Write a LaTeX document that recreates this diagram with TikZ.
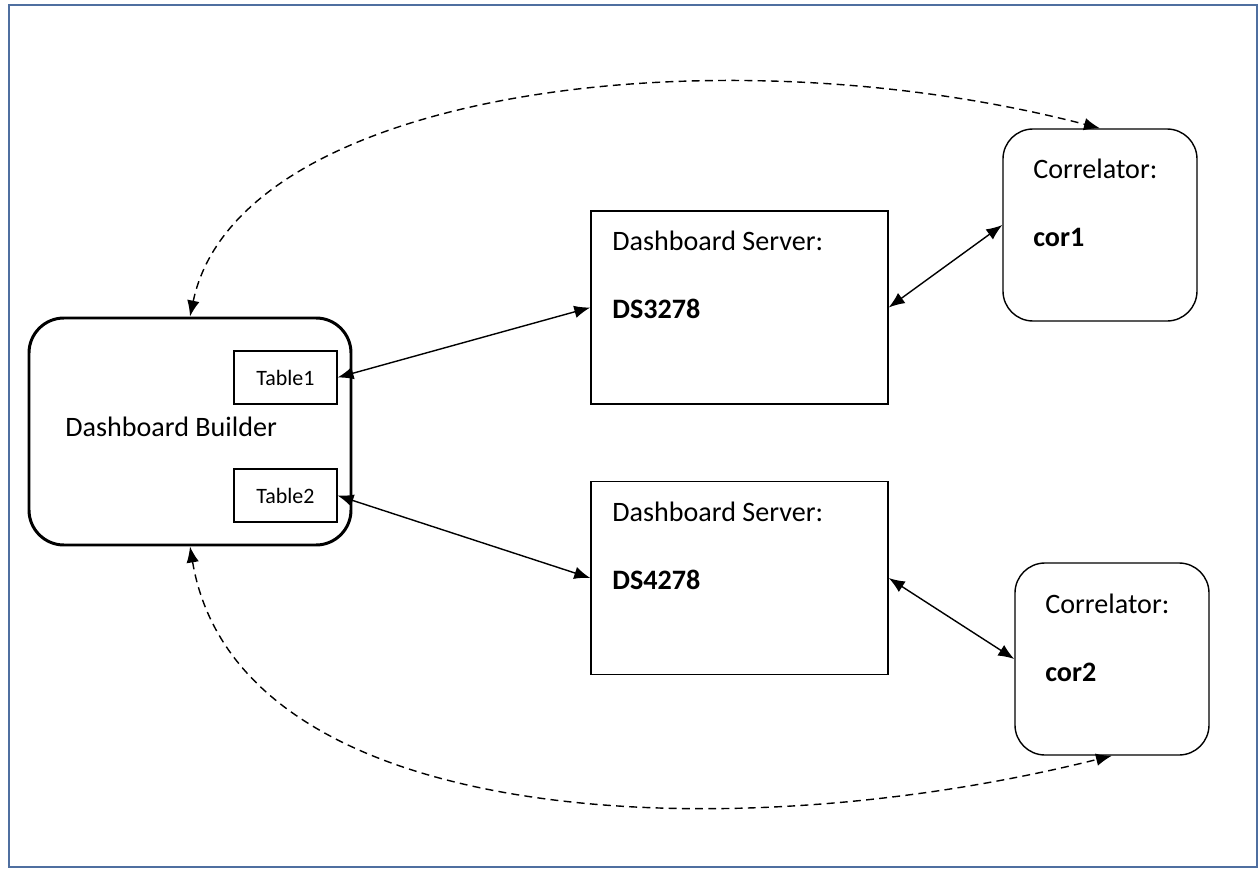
\documentclass[tikz,border=0pt]{standalone}
\usepackage{fontspec}
\setmainfont{Carlito}
\usetikzlibrary{arrows.meta}
\definecolor{framecol}{RGB}{79,111,160}
\begin{document}
\begin{tikzpicture}[x=0.02cm,y=-0.02cm,
  box/.style={draw,line width=0.8pt,inner sep=0pt},
  tbl/.style={draw,line width=0.6pt,minimum width=103*0.02cm,minimum height=53*0.02cm,inner sep=0pt,font=\fontsize{12.5}{14}\selectfont},
  txt/.style={anchor=base west,inner sep=0pt,font=\fontsize{16}{19}\selectfont},
  link/.style={line width=0.8pt,{Latex[length=3.2mm,width=2.5mm]}-{Latex[length=3.2mm,width=2.5mm]}},
  dlink/.style={link,dash pattern=on 4.5pt off 3pt}]
\useasboundingbox (0,0) rectangle (1259,869);
\draw[framecol,line width=1.6pt] (9,5) rectangle (1257,867);

   % builder and its tables
   \node[box,line width=1.7pt,rounded corners=0.7cm,minimum width=322*0.02cm,minimum height=227*0.02cm] at (190,431.5) (builder) {};
   \node[txt] at (65,436) (buildertext) {Dashboard Builder};
   \node[tbl] at (285.5,377.5) (table1) {Table1};
   \node[tbl] at (285.5,495.5) (table2) {Table2};

   % servers
   \node[box,minimum width=297*0.02cm,minimum height=193*0.02cm] at (739.5,307.5) (ds1) {};
   \node[txt] at (612,250) (ds1a) {Dashboard Server:};
   \node[txt] at (612,318) (ds1b) {\textbf{DS3278}};
   \node[box,minimum width=297*0.02cm,minimum height=193*0.02cm] at (739.5,578) (ds2) {};
   \node[txt] at (612,521) (ds2a) {Dashboard Server:};
   \node[txt] at (612,589) (ds2b) {\textbf{DS4278}};

   % correlators
   \node[box,rounded corners=0.6cm,minimum width=194*0.02cm,minimum height=192*0.02cm] at (1100,225) (cor1) {};
   \node[txt] at (1033,178) (cor1a) {Correlator:};
   \node[txt] at (1033,246) (cor1b) {\textbf{cor1}};
   \node[box,rounded corners=0.6cm,minimum width=194*0.02cm,minimum height=192*0.02cm] at (1112,659) (cor2) {};
   \node[txt] at (1045,613) (cor2a) {Correlator:};
   \node[txt] at (1045,681) (cor2b) {\textbf{cor2}};

   \draw[link] (table1.east) -- (ds1.west);
   \draw[link] (table2.east) -- (ds2.west);
   \draw[link] (ds1.east) -- (cor1.west);
   \draw[link] (ds2.east) -- (cor2.west);

   \draw[dlink] (builder.north) .. controls +(48,-228) and +(-380,-99) .. (cor1.north);
   \draw[dlink] (builder.south) .. controls +(48,285) and +(-380,95) .. (cor2.south);

\end{tikzpicture}
\end{document}
